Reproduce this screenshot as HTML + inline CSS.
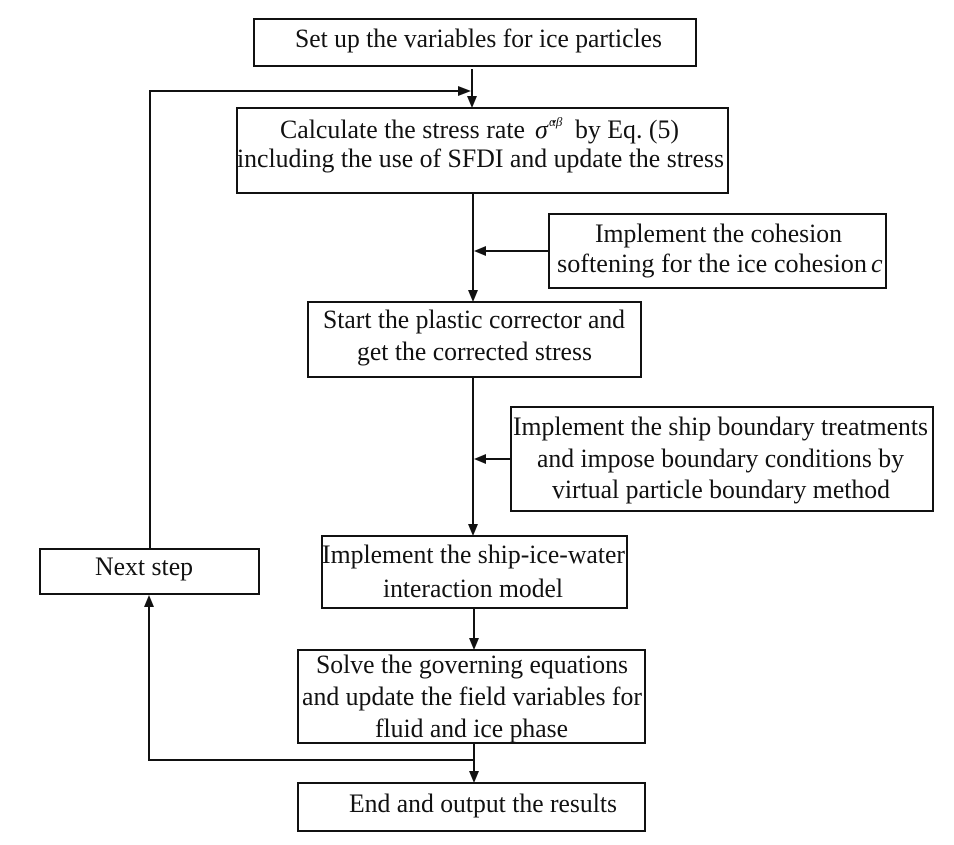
<!DOCTYPE html>
<html><head><meta charset="utf-8"><style>html,body{margin:0;padding:0;background:#fff}svg{display:block}</style></head>
<body>
<svg width="954" height="845" viewBox="0 0 954 845" xmlns="http://www.w3.org/2000/svg" font-family="Liberation Serif, serif" font-size="26" fill="#111">
<defs>
<marker id="a" viewBox="0 0 10 10" refX="10" refY="5" markerWidth="5" markerHeight="6" markerUnits="userSpaceOnUse" orient="auto"></marker>
</defs>
<g fill="none" stroke="#111" stroke-width="2">
<rect x="254" y="19" width="442" height="47"/>
<rect x="237" y="108" width="491" height="85"/>
<rect x="549" y="214" width="337" height="74"/>
<rect x="308" y="302" width="333" height="75"/>
<rect x="511" y="407" width="422" height="104"/>
<rect x="322" y="536" width="305" height="72"/>
<rect x="40" y="549" width="219" height="45"/>
<rect x="298" y="650" width="347" height="93"/>
<rect x="298" y="783" width="347" height="48"/>
<!-- connectors -->
<path d="M472 69 V100"/>
<path d="M150 549 V91 H462"/>
<path d="M473 193 V294"/>
<path d="M549 251 H482"/>
<path d="M473 377 V528"/>
<path d="M511 459 H482"/>
<path d="M474 608 V642"/>
<path d="M474 743 V775"/>
<path d="M474 760 H149 V606"/>
</g>
<g fill="#111" stroke="none">
<polygon points="467,96 477,96 472,108"/>
<polygon points="458,86 458,96 471,91"/>
<polygon points="468,290 478,290 473,302"/>
<polygon points="486,246 486,256 474,251"/>
<polygon points="468,524 478,524 473,536"/>
<polygon points="486,454 486,464 474,459"/>
<polygon points="469,638 479,638 474,650"/>
<polygon points="469,771 479,771 474,783"/>
<polygon points="144,607 154,607 149,595"/>
</g>
<g lengthAdjust="spacingAndGlyphs">
<text x="295" y="47" textLength="367" lengthAdjust="spacingAndGlyphs">Set up the variables for ice particles</text>
<text x="280" y="138" textLength="245" lengthAdjust="spacingAndGlyphs">Calculate the stress rate</text>
<text x="535" y="138" font-style="italic">σ̇</text>
<text x="549" y="126" font-size="13" font-style="italic">αβ</text>
<text x="575" y="138" textLength="104" lengthAdjust="spacingAndGlyphs">by Eq. (5)</text>
<text x="237" y="167" textLength="487" lengthAdjust="spacingAndGlyphs">including the use of SFDI and update the stress</text>
<text x="595" y="242" textLength="247" lengthAdjust="spacingAndGlyphs">Implement the cohesion</text>
<text x="557" y="272" textLength="310" lengthAdjust="spacingAndGlyphs">softening for the ice cohesion</text>
<text x="871" y="272" font-style="italic">c</text>
<text x="323" y="328" textLength="302" lengthAdjust="spacingAndGlyphs">Start the plastic corrector and</text>
<text x="357" y="360" textLength="235" lengthAdjust="spacingAndGlyphs">get the corrected stress</text>
<text x="513" y="435" textLength="415" lengthAdjust="spacingAndGlyphs">Implement the ship boundary treatments</text>
<text x="537" y="467" textLength="367" lengthAdjust="spacingAndGlyphs">and impose boundary conditions by</text>
<text x="552" y="498" textLength="338" lengthAdjust="spacingAndGlyphs">virtual particle boundary method</text>
<text x="322" y="563" textLength="303" lengthAdjust="spacingAndGlyphs">Implement the ship-ice-water</text>
<text x="383" y="597" textLength="180" lengthAdjust="spacingAndGlyphs">interaction model</text>
<text x="95" y="575" textLength="98" lengthAdjust="spacingAndGlyphs">Next step</text>
<text x="316" y="673" textLength="312" lengthAdjust="spacingAndGlyphs">Solve the governing equations</text>
<text x="302" y="705" textLength="340" lengthAdjust="spacingAndGlyphs">and update the field variables for</text>
<text x="375" y="737" textLength="193" lengthAdjust="spacingAndGlyphs">fluid and ice phase</text>
<text x="349" y="812" textLength="268" lengthAdjust="spacingAndGlyphs">End and output the results</text>
</g>
</svg>
</body></html>
